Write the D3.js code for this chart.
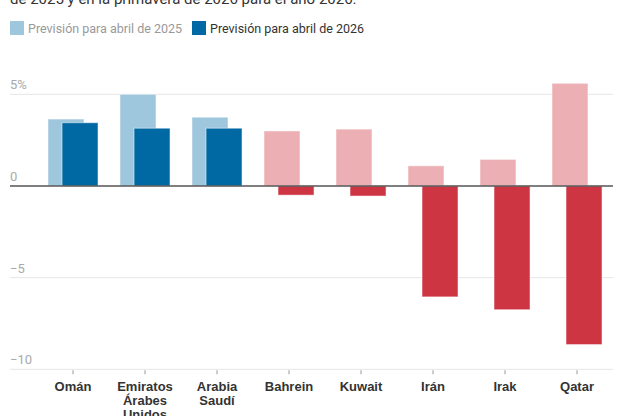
<!DOCTYPE html>
<html>
<head>
<meta charset="utf-8">
<script src="https://cdn.jsdelivr.net/npm/d3@7"></script>
<style>
  body { margin: 0; background: #fff; }
  svg { font-family: Roboto, sans-serif; }
</style>
</head>
<body>
<svg id="chart" width="624" height="416"></svg>
<script>
// values (% growth)
var countries = ["Omán", "Emiratos Árabes Unidos", "Arabia Saudí", "Bahrein", "Kuwait", "Irán", "Irak", "Qatar"];
var forecast2025 = [3.65, 5.0, 3.75, 3.0, 3.1, 1.1, 1.45, 5.6];
var forecast2026 = [3.45, 3.15, 3.15, -0.5, -0.55, -6.05, -6.75, -8.65];
var yTicks = [5, 0, -5, -10];
var legendLabels = ["Previsión para abril de 2025", "Previsión para abril de 2026"];

var svg = d3.select("#chart");

var x = d3.scaleBand()
  .domain(countries)
  .range([37, 613])
  .paddingInner(0.305)
  .paddingOuter(0.1525);

var y = d3.scaleLinear()
  .domain([-10, 5])
  .range([369.3, 94.3]);

var barW = 36;
var colors = {
  blueLight: "#9ec6dd", blue: "#0069a3",
  redLight: "#ebafb4", red: "#cd3542"
};

// title (cut at the top like the reference)
svg.append("text")
  .attr("x", 10).attr("y", 4)
  .attr("fill", "#333")
  .style("font-size", "15px")
  .text("de 2025 y en la primavera de 2026 para el año 2026.");

// legend
var legend = svg.append("g");
var lx = [10, 192];
legendLabels.forEach(function(label, i) {
  legend.append("rect")
    .attr("x", lx[i]).attr("y", 21)
    .attr("width", 14).attr("height", 14)
    .attr("fill", i === 0 ? colors.blueLight : colors.blue);
  legend.append("text")
    .attr("x", lx[i] + 18).attr("y", 32.5)
    .attr("fill", i === 0 ? "#999" : "#333")
    .style("font-size", "12.5px")
    .text(label);
});

// gridlines + y labels
svg.append("g").selectAll("line")
  .data(yTicks.filter(function(t) { return t !== 0; }))
  .enter().append("line")
  .attr("x1", 10).attr("x2", 613)
  .attr("y1", function(d) { return y(d); })
  .attr("y2", function(d) { return y(d); })
  .attr("stroke", "#e6e6e6");

svg.append("g").selectAll("text")
  .data(yTicks)
  .enter().append("text")
  .attr("x", 10)
  .attr("y", function(d) { return y(d) - 5; })
  .attr("fill", "#aaa")
  .style("font-size", "13px")
  .text(function(d) { return d === 5 ? "5%" : d3.format("")(d).replace("-", "\u2212"); });

// bars
var groups = svg.append("g").selectAll("g")
  .data(countries)
  .enter().append("g");

groups.append("rect")
  .attr("x", function(d) { return x(d); })
  .attr("width", barW)
  .attr("y", function(d, i) { return y(Math.max(0, forecast2025[i])); })
  .attr("height", function(d, i) { return Math.abs(y(forecast2025[i]) - y(0)); })
  .attr("fill", function(d, i) { return forecast2026[i] >= 0 ? colors.blueLight : colors.redLight; })
  .attr("stroke", "rgba(255,255,255,0.5)");

groups.append("rect")
  .attr("x", function(d) { return x(d) + x.bandwidth() - barW; })
  .attr("width", barW)
  .attr("y", function(d, i) { return y(Math.max(0, forecast2026[i])); })
  .attr("height", function(d, i) { return Math.abs(y(forecast2026[i]) - y(0)); })
  .attr("fill", function(d, i) { return forecast2026[i] >= 0 ? colors.blue : colors.red; })
  .attr("stroke", "rgba(255,255,255,0.5)");

// zero line
svg.append("line")
  .attr("x1", 10).attr("x2", 613)
  .attr("y1", y(0)).attr("y2", y(0))
  .attr("stroke", "#555")
  .attr("stroke-width", 1.5);

// x axis
var xAxis = svg.append("g")
  .attr("transform", "translate(0," + y(-10) + ")")
  .call(d3.axisBottom(x).tickSize(5).tickSizeOuter(0).tickFormat(""));
xAxis.select(".domain").remove();
xAxis.selectAll(".tick line").attr("stroke", "#999").attr("y1", 1);

xAxis.selectAll(".tick").each(function(d) {
  var t = d3.select(this).append("text")
    .attr("text-anchor", "middle")
    .attr("fill", "#333")
    .style("font-size", "13px")
    .style("font-weight", "bold");
  d.split(" ").forEach(function(w, k) {
    t.append("tspan").attr("x", 0).attr("y", 22 + k * 14).text(w);
  });
});
</script>
</body>
</html>
